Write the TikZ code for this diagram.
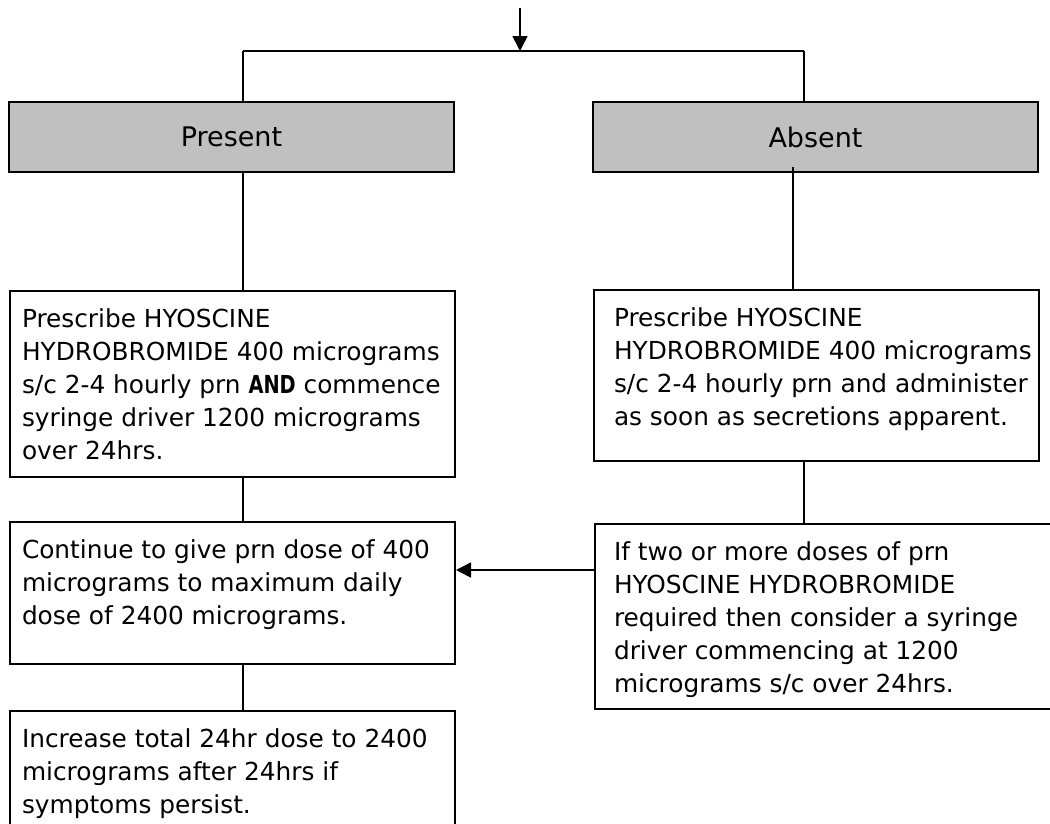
\documentclass[tikz,border=0pt]{standalone}
\usepackage{fontspec}
\setmainfont{DejaVu Sans}[BoldFeatures={FakeStretch=0.78}]
\usetikzlibrary{arrows.meta}
\newcommand{\bodyfont}{\fontsize{24.8}{33}\selectfont}
\newcommand{\boxbody}[4]{\makebox[#1][l]{\begin{minipage}[c][#2][t]{640pt}\bodyfont\vspace*{#3}\raggedright\strut #4\end{minipage}}}
\tikzset{
  box/.style={draw, line width=2pt, inner xsep=12pt, inner ysep=0pt, anchor=north west},
  hbox/.style={draw, line width=2pt, fill=headgray, minimum width=445pt, minimum height=70pt, inner sep=0pt, font=\fontsize{27}{32}\selectfont},
  conn/.style={line width=1.6pt},
  bar/.style={line width=2.4pt},
  arrow/.style={line width=1.6pt, -{Triangle[length=15pt,width=15pt]}}
}
\definecolor{headgray}{RGB}{192,192,192}
\begin{document}
\begin{tikzpicture}[x=1pt,y=-1pt]
\useasboundingbox (0,0) rectangle (1050,823);
\clip (0,0) rectangle (1050,823);
\node[hbox] (P) at (231.5,137) {Present};
\node[hbox] (A) at (815.5,137) {Absent};
\node[box] (L1) at (9,290) {\boxbody{421pt}{186pt}{13pt}{Prescribe HYOSCINE\\ HYDROBROMIDE 400 micrograms\\ s/c 2-4 hourly prn \textbf{AND} commence\\ syringe driver 1200 micrograms\\ over 24hrs.}};
\node[box, inner xsep=20pt] (R1) at (593,289) {\boxbody{405pt}{171pt}{13pt}{Prescribe HYOSCINE\\ HYDROBROMIDE 400 micrograms\\ s/c 2-4 hourly prn and administer\\ as soon as secretions apparent.}};
\node[box] (L2) at (9,521) {\boxbody{421pt}{142pt}{13pt}{Continue to give prn dose of 400\\ micrograms to maximum daily\\ dose of 2400 micrograms.}};
\node[box, inner xsep=19pt] (R2) at (594,523) {\boxbody{440pt}{185pt}{13pt}{If two or more doses of prn\\ HYOSCINE HYDROBROMIDE\\ required then consider a syringe\\ driver commencing at 1200\\ micrograms s/c over 24hrs.}};
\node[box] (L3) at (9,710) {\boxbody{421pt}{140pt}{13pt}{Increase total 24hr dose to 2400\\ micrograms after 24hrs if\\ symptoms persist.}};
\coordinate (in) at (520,8);
\coordinate (bl) at (243,51);
\coordinate (br) at (804,51);
\coordinate (ac) at (793,167);
\coordinate (ay) at (0,570);
\draw[arrow] (in) -- (in |- bl);
\draw[conn] (P.north -| bl) -- (bl);
\draw[bar] (bl) -- (br);
\draw[conn] (br) -- (A.north -| br);
\draw[conn] (P.south -| bl) -- (L1.north -| bl);
\draw[conn] (ac) -- (ac |- R1.north);
\draw[conn] (L1.south -| bl) -- (L2.north -| bl);
\draw[conn] (R1.south -| br) -- (R2.north -| br);
\draw[conn] (L2.south -| bl) -- (L3.north -| bl);
\draw[arrow] (R2.west |- ay) -- (L2.east |- ay);
\end{tikzpicture}
\end{document}
